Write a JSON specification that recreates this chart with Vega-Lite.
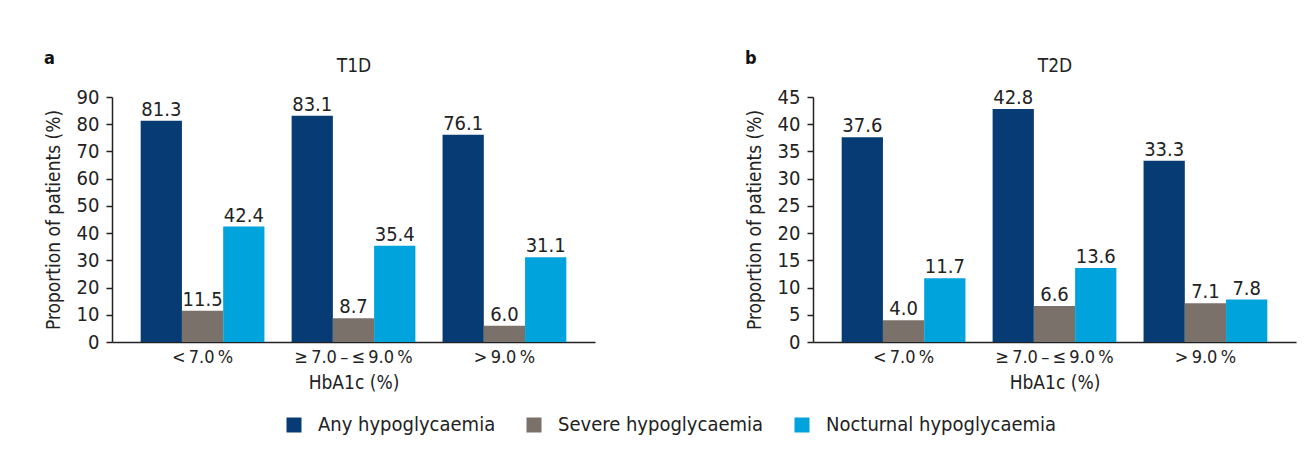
{
  "$schema": "https://vega.github.io/schema/vega-lite/v6.json",
  "background": "white",
  "padding": {"left": 44, "top": 50, "right": 10, "bottom": 10},
  "data": {"values": [
    {"panel": "T1D", "group": "<\u20097.0\u2009%", "type": "Any hypoglycaemia", "value": 81.3},
    {"panel": "T1D", "group": "<\u20097.0\u2009%", "type": "Severe hypoglycaemia", "value": 11.5},
    {"panel": "T1D", "group": "<\u20097.0\u2009%", "type": "Nocturnal hypoglycaemia", "value": 42.4},
    {"panel": "T1D", "group": "\u2265\u20097.0\u2009\u2013\u2009\u2264\u20099.0\u2009%", "type": "Any hypoglycaemia", "value": 83.1},
    {"panel": "T1D", "group": "\u2265\u20097.0\u2009\u2013\u2009\u2264\u20099.0\u2009%", "type": "Severe hypoglycaemia", "value": 8.7},
    {"panel": "T1D", "group": "\u2265\u20097.0\u2009\u2013\u2009\u2264\u20099.0\u2009%", "type": "Nocturnal hypoglycaemia", "value": 35.4},
    {"panel": "T1D", "group": ">\u20099.0\u2009%", "type": "Any hypoglycaemia", "value": 76.1},
    {"panel": "T1D", "group": ">\u20099.0\u2009%", "type": "Severe hypoglycaemia", "value": 6.0},
    {"panel": "T1D", "group": ">\u20099.0\u2009%", "type": "Nocturnal hypoglycaemia", "value": 31.1},
    {"panel": "T2D", "group": "<\u20097.0\u2009%", "type": "Any hypoglycaemia", "value": 37.6},
    {"panel": "T2D", "group": "<\u20097.0\u2009%", "type": "Severe hypoglycaemia", "value": 4.0},
    {"panel": "T2D", "group": "<\u20097.0\u2009%", "type": "Nocturnal hypoglycaemia", "value": 11.7},
    {"panel": "T2D", "group": "\u2265\u20097.0\u2009\u2013\u2009\u2264\u20099.0\u2009%", "type": "Any hypoglycaemia", "value": 42.8},
    {"panel": "T2D", "group": "\u2265\u20097.0\u2009\u2013\u2009\u2264\u20099.0\u2009%", "type": "Severe hypoglycaemia", "value": 6.6},
    {"panel": "T2D", "group": "\u2265\u20097.0\u2009\u2013\u2009\u2264\u20099.0\u2009%", "type": "Nocturnal hypoglycaemia", "value": 13.6},
    {"panel": "T2D", "group": ">\u20099.0\u2009%", "type": "Any hypoglycaemia", "value": 33.3},
    {"panel": "T2D", "group": ">\u20099.0\u2009%", "type": "Severe hypoglycaemia", "value": 7.1},
    {"panel": "T2D", "group": ">\u20099.0\u2009%", "type": "Nocturnal hypoglycaemia", "value": 7.8}
  ]},
  "spacing": 150,
  "hconcat": [
    {
      "title": {"text": "a"},
      "width": 483,
      "height": 245,
      "transform": [{"filter": "datum.panel == 'T1D'"}],
      "layer": [
        {
          "mark": {"type": "bar"},
          "encoding": {
            "x": {"field": "group", "type": "nominal", "sort": null, "scale": {"paddingInner": 0.18, "paddingOuter": 0.19}, "axis": {"title": "HbA1c (%)"}},
            "xOffset": {"field": "type", "type": "nominal", "sort": ["Any hypoglycaemia", "Severe hypoglycaemia", "Nocturnal hypoglycaemia"]},
            "y": {"field": "value", "type": "quantitative", "scale": {"domain": [0, 90], "nice": false}, "axis": {"values": [0, 10, 20, 30, 40, 50, 60, 70, 80, 90], "title": "Proportion of patients (%)"}},
            "color": {"field": "type", "type": "nominal", "sort": ["Any hypoglycaemia", "Severe hypoglycaemia", "Nocturnal hypoglycaemia"], "scale": {"domain": ["Any hypoglycaemia", "Severe hypoglycaemia", "Nocturnal hypoglycaemia"], "range": ["#063c73", "#7b716b", "#00a3dc"]}, "legend": {"title": null}}
          }
        },
        {
          "mark": {"type": "text", "baseline": "bottom", "dy": -1, "fontSize": 20, "color": "#222"},
          "encoding": {
            "x": {"field": "group", "type": "nominal", "sort": null, "axis": {"orient": "top", "title": "T1D", "labels": false, "ticks": false, "domain": false, "titlePadding": 22}},
            "xOffset": {"field": "type", "type": "nominal", "sort": ["Any hypoglycaemia", "Severe hypoglycaemia", "Nocturnal hypoglycaemia"]},
            "y": {"field": "value", "type": "quantitative", "axis": {"values": [0, 10, 20, 30, 40, 50, 60, 70, 80, 90], "title": "Proportion of patients (%)"}},
            "text": {"field": "value", "type": "quantitative", "format": ".1f"}
          }
        }
      ],
      "resolve": {"axis": {"x": "independent"}}
    },
    {
      "title": {"text": "b"},
      "width": 483,
      "height": 245,
      "transform": [{"filter": "datum.panel == 'T2D'"}],
      "layer": [
        {
          "mark": {"type": "bar"},
          "encoding": {
            "x": {"field": "group", "type": "nominal", "sort": null, "scale": {"paddingInner": 0.18, "paddingOuter": 0.19}, "axis": {"title": "HbA1c (%)"}},
            "xOffset": {"field": "type", "type": "nominal", "sort": ["Any hypoglycaemia", "Severe hypoglycaemia", "Nocturnal hypoglycaemia"]},
            "y": {"field": "value", "type": "quantitative", "scale": {"domain": [0, 45], "nice": false}, "axis": {"values": [0, 5, 10, 15, 20, 25, 30, 35, 40, 45], "title": "Proportion of patients (%)"}},
            "color": {"field": "type", "type": "nominal", "sort": ["Any hypoglycaemia", "Severe hypoglycaemia", "Nocturnal hypoglycaemia"], "scale": {"domain": ["Any hypoglycaemia", "Severe hypoglycaemia", "Nocturnal hypoglycaemia"], "range": ["#063c73", "#7b716b", "#00a3dc"]}, "legend": {"title": null}}
          }
        },
        {
          "mark": {"type": "text", "baseline": "bottom", "dy": -1, "fontSize": 20, "color": "#222"},
          "encoding": {
            "x": {"field": "group", "type": "nominal", "sort": null, "axis": {"orient": "top", "title": "T2D", "labels": false, "ticks": false, "domain": false, "titlePadding": 22}},
            "xOffset": {"field": "type", "type": "nominal", "sort": ["Any hypoglycaemia", "Severe hypoglycaemia", "Nocturnal hypoglycaemia"]},
            "y": {"field": "value", "type": "quantitative", "axis": {"values": [0, 5, 10, 15, 20, 25, 30, 35, 40, 45], "title": "Proportion of patients (%)"}},
            "text": {"field": "value", "type": "quantitative", "format": ".1f"}
          }
        }
      ],
      "resolve": {"axis": {"x": "independent"}}
    }
  ],
  "resolve": {"scale": {"y": "independent", "x": "independent", "color": "shared"}},
  "config": {
    "font": "DejaVu Sans Condensed, sans-serif",
    "view": {"stroke": null},
    "title": {"anchor": "start", "frame": "bounds", "fontSize": 18, "fontWeight": "bold", "color": "#111", "offset": -12},
    "axis": {"grid": false, "domainColor": "#222", "domainWidth": 1.5, "tickColor": "#222", "tickWidth": 1.5, "labelColor": "#222", "titleColor": "#222", "titleFontWeight": "normal", "titleFontSize": 19, "labelOverlap": false},
    "axisY": {"tickSize": 6, "labelFontSize": 20, "labelPadding": 7, "titlePadding": 13},
    "axisX": {"ticks": false, "labelAngle": 0, "labelFontSize": 18, "labelPadding": 6, "titlePadding": 7, "labelLimit": 300},
    "scale": {"offsetBandPaddingInner": 0, "offsetBandPaddingOuter": 0},
    "legend": {"orient": "bottom", "direction": "horizontal", "symbolType": "square", "symbolSize": 225, "symbolStrokeWidth": 0, "symbolOpacity": 1, "labelFontSize": 20, "labelColor": "#222", "columnPadding": 28, "labelOffset": 14, "labelLimit": 400, "offset": 23, "layout": {"bottom": {"anchor": "middle"}}}
  }
}
